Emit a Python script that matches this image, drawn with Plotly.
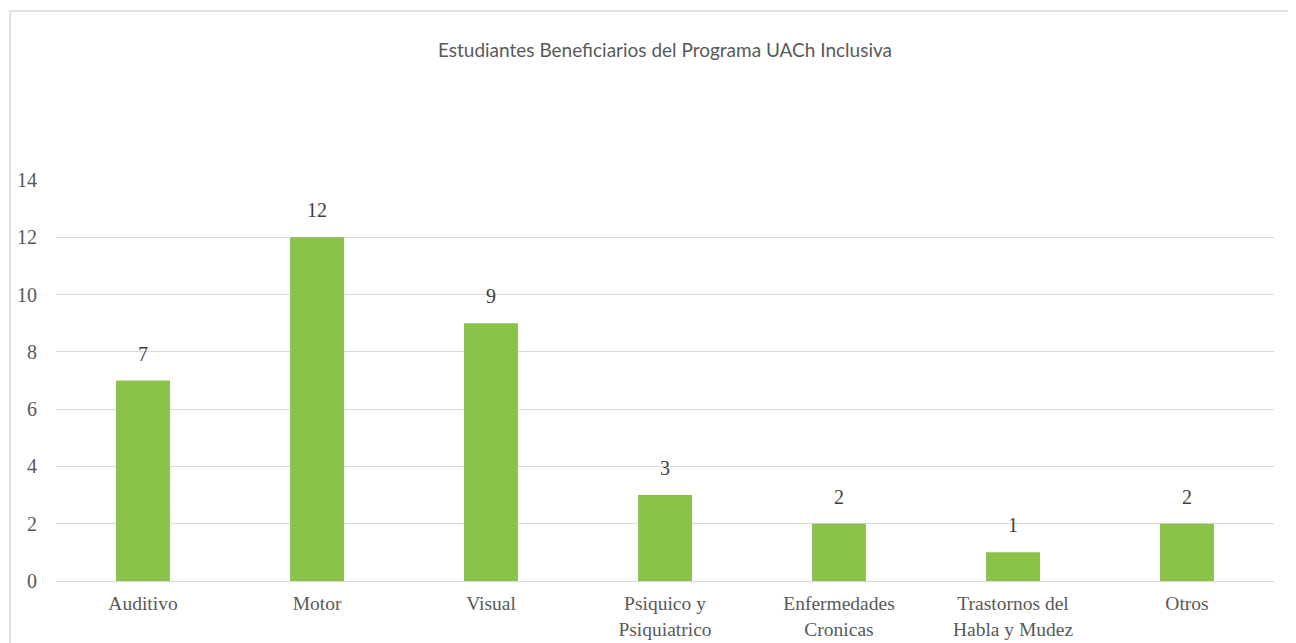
import plotly.graph_objects as go

categories = ["Auditivo", "Motor", "Visual", "Psiquico y<br>Psiquiatrico",
              "Enfermedades<br>Cronicas", "Trastornos del<br>Habla y Mudez", "Otros"]
values = [7, 12, 9, 3, 2, 1, 2]
title = "Estudiantes Beneficiarios del Programa UACh Inclusiva"

OFF = 8  # default page body margin
W, H = 1296 - OFF, 643 - OFF
L, R, T, B = 56 - OFF, 22, 180 - OFF, 62
pw, ph = W - L - R, H - T - B

fig = go.Figure(go.Bar(
    x=categories, y=values,
    marker=dict(color="#8BC34A", line=dict(width=0)),
    width=0.31,
))

for c, v in zip(categories, values):
    fig.add_annotation(x=c, y=v, text=str(v), showarrow=False,
                       yanchor="middle", yshift=27,
                       font=dict(family="Liberation Serif", size=20, color="#404040"))

fig.update_layout(
    width=W, height=H,
    margin=dict(l=L, r=R, t=T, b=B, autoexpand=False),
    paper_bgcolor="white", plot_bgcolor="white",
    showlegend=False,
    title=dict(text=title, x=(L + pw / 2) / W, xanchor="center",
               y=1 - (50 - OFF) / H, yanchor="middle",
               font=dict(family="Lato", size=19, color="#595959")),
    xaxis=dict(showgrid=False, showline=True, linecolor="#D9D9D9", linewidth=1,
               tickfont=dict(family="Liberation Serif", size=19.5, color="#595959"),
               ticks="", ticklabelstandoff=5, automargin=False),
    yaxis=dict(range=[0, 14], dtick=2, showgrid=True, gridcolor="#D9D9D9",
               gridwidth=1, zeroline=False, showline=False, automargin=False,
               tickfont=dict(family="Liberation Serif", size=20, color="#595959"),
               ticks="", ticklabelstandoff=18),
    bargap=0.69,
    shapes=[dict(type="rect", xref="paper", yref="paper",
                 x0=(10 - OFF - L) / pw, x1=1.2, y0=-0.3,
                 y1=(H - B - (11 - OFF)) / ph,
                 line=dict(color="#D9D9D9", width=1.5), fillcolor="rgba(0,0,0,0)")],
)

fig.write_html("out.html")
